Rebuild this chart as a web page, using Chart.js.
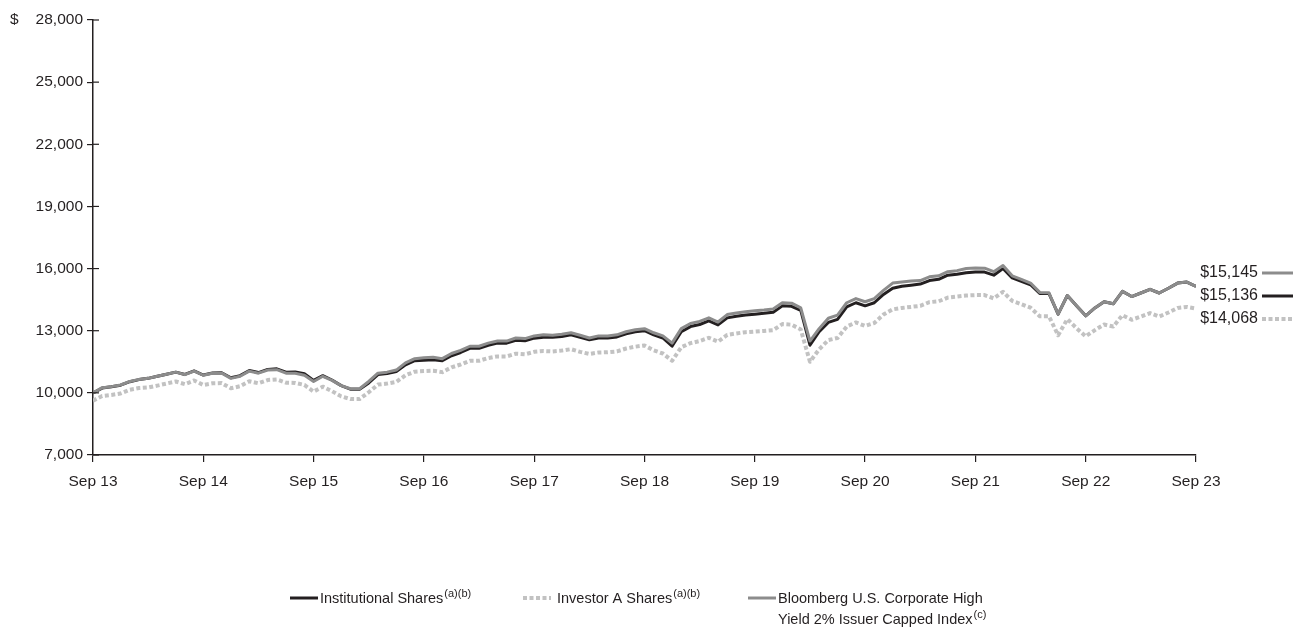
<!DOCTYPE html>
<html>
<head>
<meta charset="utf-8">
<script src="https://cdn.jsdelivr.net/npm/chart.js@4.4.1/dist/chart.umd.min.js"></script>
<style>
    html, body { margin: 0; padding: 0; background: #ffffff; }
    #wrap { width: 1293px; height: 629px; }
</style>
</head>
<body>
<div id="wrap"><canvas id="growthChart" width="1293" height="629"></canvas></div>
<script>

// ==========================
// DATA
// ==========================

// month offsets from Sep 13 where the x ticks sit
const xTickMonths = [0, 12, 24, 36, 48, 60, 72, 84, 96, 108, 120];
const xTickLabels = ["Sep 13","Sep 14","Sep 15","Sep 16","Sep 17","Sep 18","Sep 19","Sep 20","Sep 21","Sep 22","Sep 23"];

const yTicks = [7000, 10000, 13000, 16000, 19000, 22000, 25000, 28000];

// monthly values, Sep 13 .. Sep 23
const indexValues = [
    10000, 10250, 10300, 10380, 10550, 10650, 10700, 10800, 10900, 11000,
    10880, 11050, 10850, 10950, 10950, 10700, 10800, 11050, 10950, 11100,
    11120, 10950, 10950, 10850, 10550, 10800, 10600, 10350, 10200, 10200,
    10550, 10950, 11000, 11100, 11450, 11650, 11700, 11720, 11650, 11900,
    12050, 12250, 12250, 12400, 12500, 12500, 12650, 12620, 12750, 12800,
    12780, 12830, 12900, 12780, 12650, 12750, 12750, 12800, 12950, 13050,
    13100, 12900, 12750, 12400, 13100, 13350, 13450, 13620, 13420, 13780,
    13860, 13920, 13960, 14000, 14050, 14350, 14330, 14100, 12500, 13100,
    13600, 13750, 14350, 14550, 14400, 14550, 14950, 15300, 15350, 15400,
    15420, 15600, 15650, 15850, 15900, 16000, 16030, 16020, 15850, 16150,
    15650, 15480, 15300, 14850, 14830, 13800, 14700, 14200, 13720, 14100,
    14400, 14300, 14900, 14650, 14820, 15000, 14820, 15050, 15300, 15350,
    15145
];

const institutionalValues = [
    10000, 10230, 10290, 10370, 10540, 10640, 10700, 10800, 10900, 11000,
    10890, 11060, 10860, 10960, 10970, 10730, 10830, 11080, 10980, 11130,
    11160, 11000, 11010, 10920, 10600, 10830, 10620, 10350, 10180, 10170,
    10480, 10880, 10930, 11030, 11350, 11550, 11580, 11600, 11550, 11790,
    11950, 12150, 12150, 12300, 12400, 12400, 12540, 12510, 12640, 12690,
    12680, 12720, 12800, 12680, 12560, 12650, 12650, 12700, 12850, 12950,
    13000, 12800, 12650, 12250, 12950, 13200, 13300, 13480, 13280, 13620,
    13700, 13760, 13800, 13840, 13890, 14200, 14180, 13980, 12300, 12950,
    13400, 13550, 14150, 14350, 14200, 14350, 14750, 15050, 15150, 15200,
    15250, 15420, 15480, 15680, 15730, 15800, 15830, 15830, 15680, 16000,
    15550, 15380, 15220, 14800, 14800, 13800, 14700, 14200, 13720, 14100,
    14400, 14300, 14900, 14650, 14820, 15000, 14820, 15050, 15300, 15350,
    15136
];

const investorAValues = [
    9620, 9850, 9900, 9970, 10150, 10230, 10260, 10350, 10450, 10550,
    10420, 10600, 10380, 10460, 10470, 10220, 10320, 10560, 10460, 10620,
    10650, 10490, 10480, 10380, 10060, 10300, 10080, 9830, 9700, 9700,
    10030, 10400, 10450, 10530, 10850, 11020, 11050, 11070, 11000, 11230,
    11370, 11550, 11550, 11680, 11760, 11760, 11890, 11860, 11980, 12020,
    12000, 12040, 12110, 11980, 11880, 11950, 11960, 12000, 12140, 12230,
    12290, 12050, 11900, 11550, 12200, 12400, 12500, 12660, 12470, 12800,
    12870, 12930, 12960, 12990, 13030, 13320, 13290, 13060, 11500, 12100,
    12550, 12650, 13200, 13400, 13230, 13370, 13780, 14030, 14100, 14150,
    14200, 14380, 14420, 14600, 14650, 14700, 14720, 14720, 14560, 14880,
    14440, 14280, 14110, 13700, 13700, 12780, 13560, 13120, 12730, 13030,
    13300, 13200, 13750, 13530, 13680, 13850, 13680, 13880, 14100, 14150,
    14068
];

const seriesNames = ["Institutional Shares", "Investor A Shares", "Bloomberg U.S. Corporate High Yield 2% Issuer Capped Index"];
const endLabels = ["$15,145", "$15,136", "$14,068"];

// ==========================
// STYLE
// ==========================

const INK = "#231f20";
const INDEX_GRAY = "#8c8c8c";
const DASH_GRAY = "#c2c2c2";
const FONT = "'Liberation Sans', Arial, sans-serif";

function toPoints(values){
    return values.map((v, i) => ({ x: i, y: v }));
}

// ==========================
// EXTRA DRAWING (end labels, legend, $)
// ==========================

const extrasPlugin = {

    id: "extras",

    afterDraw(chart){

        const ctx = chart.ctx;
        const yScale = chart.scales.y;
        const left = chart.chartArea.left;

        ctx.save();

        // tick marks also poke out to the right of the y axis
        ctx.strokeStyle = INK;
        ctx.lineWidth = 1.2;
        yTicks.forEach(v => {
            const py = yScale.getPixelForValue(v);
            ctx.beginPath();
            ctx.moveTo(left, py);
            ctx.lineTo(left + 6, py);
            ctx.stroke();
        });

        ctx.fillStyle = INK;
        ctx.textBaseline = "middle";
        ctx.font = "15.5px " + FONT;
        ctx.textAlign = "left";
        ctx.fillText("$", 10, yScale.getPixelForValue(yTicks[yTicks.length - 1]));

        // end labels
        const endRows = [
            { y: 273, color: INDEX_GRAY, dash: [] , width: 3 },
            { y: 296, color: INK, dash: [], width: 3 },
            { y: 319, color: DASH_GRAY, dash: [4, 2.5], width: 4 }
        ];

        endRows.forEach((row, i) => {
            ctx.textAlign = "right";
            ctx.fillStyle = INK;
            ctx.font = "16px " + FONT;
            ctx.fillText(endLabels[i], 1258, row.y);
            ctx.strokeStyle = row.color;
            ctx.lineWidth = row.width;
            ctx.setLineDash(row.dash);
            ctx.beginPath();
            ctx.moveTo(1262, row.y);
            ctx.lineTo(1293, row.y);
            ctx.stroke();
            ctx.setLineDash([]);
        });

        // legend
        const legendRows = [
            { x: 290, color: INK, dash: [], width: 3, text: ["Institutional Shares"], sup: "(a)(b)", gap: 2 },
            { x: 523, color: DASH_GRAY, dash: [4, 2.5], width: 4, text: ["Investor A Shares"], sup: "(a)(b)", gap: 6 },
            { x: 748, color: INDEX_GRAY, dash: [], width: 3, text: ["Bloomberg U.S. Corporate High", "Yield 2% Issuer Capped Index"], sup: "(c)", gap: 2 }
        ];

        legendRows.forEach(item => {
            const ly = 598;
            ctx.strokeStyle = item.color;
            ctx.lineWidth = item.width;
            ctx.setLineDash(item.dash);
            ctx.beginPath();
            ctx.moveTo(item.x, ly);
            ctx.lineTo(item.x + 28, ly);
            ctx.stroke();
            ctx.setLineDash([]);

            const tx = item.x + 28 + item.gap;
            ctx.textAlign = "left";
            ctx.fillStyle = INK;
            item.text.forEach((line, j) => {
                const rowY = ly + 1 + j * 21;
                ctx.font = "14.5px " + FONT;
                ctx.fillText(line, tx, rowY);
                if(j === item.text.length - 1){
                    const w = ctx.measureText(line).width;
                    ctx.font = "11px " + FONT;
                    ctx.fillText(item.sup, tx + w + 1, rowY - 5);
                }
            });
        });

        ctx.restore();
    }
};

// ==========================
// CHART
// ==========================

new Chart(document.getElementById("growthChart"), {

    type: "line",

    data: {
        datasets: [
            {
                label: seriesNames[2],
                data: toPoints(indexValues),
                borderColor: INDEX_GRAY,
                borderWidth: 3
            },
            {
                label: seriesNames[0],
                data: toPoints(institutionalValues),
                borderColor: INK,
                borderWidth: 3
            },
            {
                label: seriesNames[1],
                data: toPoints(investorAValues),
                borderColor: DASH_GRAY,
                borderWidth: 4,
                borderDash: [4, 2.5]
            }
        ]
    },

    options: {
        responsive: false,
        animation: false,
        elements: {
            point: { radius: 0 },
            line: { tension: 0, borderJoinStyle: "round" }
        },
        layout: {
            padding: { left: 0, right: 97, top: 20, bottom: 0 }
        },
        plugins: {
            legend: { display: false },
            tooltip: { enabled: false }
        },
        scales: {
            x: {
                type: "linear",
                min: xTickMonths[0],
                max: xTickMonths[xTickMonths.length - 1],
                afterBuildTicks(scale){
                    scale.ticks = xTickMonths.map(v => ({ value: v }));
                },
                afterFit(scale){
                    scale.height = 174;
                },
                ticks: {
                    autoSkip: false,
                    maxRotation: 0,
                    color: INK,
                    font: { family: FONT, size: 15.5 },
                    padding: 10,
                    callback: (value) => xTickLabels[xTickMonths.indexOf(value)]
                },
                grid: {
                    drawOnChartArea: false,
                    color: INK,
                    tickLength: 7,
                    lineWidth: 1.2
                },
                border: { color: INK, width: 1.5 }
            },
            y: {
                min: yTicks[0],
                max: yTicks[yTicks.length - 1],
                afterBuildTicks(scale){
                    scale.ticks = yTicks.map(v => ({ value: v }));
                },
                afterFit(scale){
                    scale.width = 93;
                },
                ticks: {
                    color: INK,
                    font: { family: FONT, size: 15.5 },
                    padding: 4,
                    callback: (value) => value.toLocaleString("en-US")
                },
                grid: {
                    drawOnChartArea: false,
                    color: INK,
                    tickLength: 6,
                    lineWidth: 1.2
                },
                border: { color: INK, width: 1.5 }
            }
        }
    },

    plugins: [extrasPlugin]

});

</script>
</body>
</html>
